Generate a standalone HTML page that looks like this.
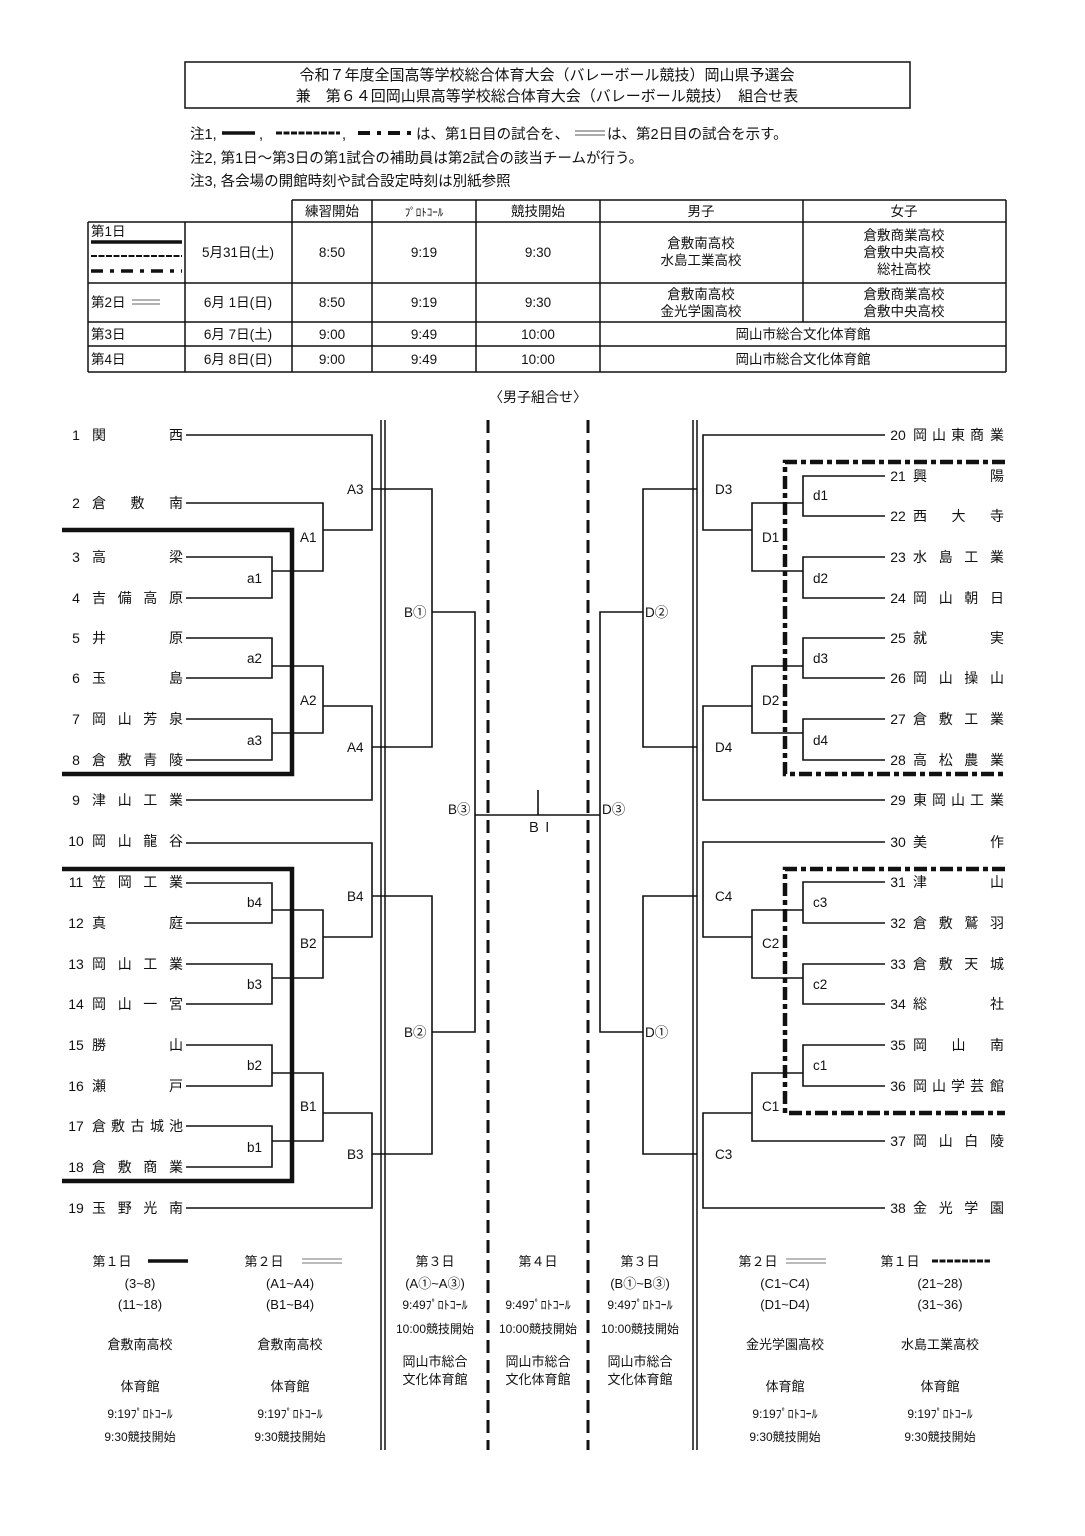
<!DOCTYPE html>
<html><head><meta charset="utf-8">
<style>
html,body{margin:0;padding:0;background:#fff}
svg{display:block}
text{font-family:"Liberation Sans","Noto Sans CJK JP",sans-serif;fill:#111}
</style></head>
<body>
<svg width="1085" height="1536" viewBox="0 0 1085 1536" xmlns="http://www.w3.org/2000/svg">
<!-- Header -->
<rect x="185" y="62" width="725" height="46" fill="none" stroke="#111" stroke-width="1.5"/>
<text x="547" y="80" font-size="15" text-anchor="middle">令和７年度全国高等学校総合体育大会（バレーボール競技）岡山県予選会</text>
<text x="547" y="101" font-size="15" text-anchor="middle">兼　第６４回岡山県高等学校総合体育大会（バレーボール競技）　組合せ表</text>
<!-- Notes -->
<g font-size="14.5">
<text x="190" y="139">注1,</text>
<line x1="222" y1="133" x2="255" y2="133" stroke="#111" stroke-width="3.5"/>
<text x="259" y="139">,</text>
<line x1="276" y1="133" x2="340" y2="133" stroke="#111" stroke-width="3" stroke-dasharray="6 1.5"/>
<text x="342" y="139">,</text>
<line x1="358" y1="133" x2="415" y2="133" stroke="#111" stroke-width="4" stroke-dasharray="12 7 4 7"/>
<text x="416" y="139">は、第1日目の試合を、</text>
<line x1="575" y1="131" x2="605" y2="131" stroke="#555" stroke-width="1"/>
<line x1="575" y1="135" x2="605" y2="135" stroke="#555" stroke-width="1"/>
<text x="607" y="139">は、第2日目の試合を示す。</text>
<text x="190" y="163">注2, 第1日～第3日の第1試合の補助員は第2試合の該当チームが行う。</text>
<text x="190" y="186">注3, 各会場の開館時刻や試合設定時刻は別紙参照</text>
</g>
<!-- Table -->
<g stroke="#111" stroke-width="1.5" fill="none">
<line x1="292" y1="200" x2="1006" y2="200"/>
<line x1="88" y1="222" x2="1006" y2="222"/>
<line x1="88" y1="283" x2="1006" y2="283"/>
<line x1="88" y1="322" x2="1006" y2="322"/>
<line x1="88" y1="346" x2="1006" y2="346"/>
<line x1="88" y1="372" x2="1006" y2="372"/>
<line x1="88" y1="222" x2="88" y2="372"/>
<line x1="185" y1="222" x2="185" y2="372"/>
<line x1="292" y1="200" x2="292" y2="372"/>
<line x1="372" y1="200" x2="372" y2="372"/>
<line x1="476" y1="200" x2="476" y2="372"/>
<line x1="600" y1="200" x2="600" y2="372"/>
<line x1="803" y1="200" x2="803" y2="322"/>
<line x1="1006" y1="200" x2="1006" y2="372"/>
</g>
<line x1="91" y1="242" x2="182" y2="242" stroke="#111" stroke-width="3.5"/>
<line x1="91" y1="256" x2="182" y2="256" stroke="#111" stroke-width="2" stroke-dasharray="6 1.5"/>
<line x1="91" y1="271" x2="182" y2="271" stroke="#111" stroke-width="3.5" stroke-dasharray="12 7 4 7"/>
<line x1="132" y1="300" x2="160" y2="300" stroke="#666" stroke-width="1"/>
<line x1="132" y1="304" x2="160" y2="304" stroke="#666" stroke-width="1"/>
<g font-size="13.5" text-anchor="middle">
<text x="332" y="216">練習開始</text>
<text x="424" y="216" font-size="11">ﾌﾟﾛﾄｺｰﾙ</text>
<text x="538" y="216">競技開始</text>
<text x="701" y="216">男子</text>
<text x="904" y="216">女子</text>
<text x="238" y="257">5月31日(土)</text><text x="332" y="257">8:50</text><text x="424" y="257">9:19</text><text x="538" y="257">9:30</text>
<text x="701" y="248">倉敷南高校</text><text x="701" y="265">水島工業高校</text>
<text x="904" y="240">倉敷商業高校</text><text x="904" y="257">倉敷中央高校</text><text x="904" y="274">総社高校</text>
<text x="238" y="307">6月 1日(日)</text><text x="332" y="307">8:50</text><text x="424" y="307">9:19</text><text x="538" y="307">9:30</text>
<text x="701" y="299">倉敷南高校</text><text x="701" y="316">金光学園高校</text>
<text x="904" y="299">倉敷商業高校</text><text x="904" y="316">倉敷中央高校</text>
<text x="238" y="339">6月 7日(土)</text><text x="332" y="339">9:00</text><text x="424" y="339">9:49</text><text x="538" y="339">10:00</text>
<text x="803" y="339">岡山市総合文化体育館</text>
<text x="238" y="364">6月 8日(日)</text><text x="332" y="364">9:00</text><text x="424" y="364">9:49</text><text x="538" y="364">10:00</text>
<text x="803" y="364">岡山市総合文化体育館</text>
</g>
<g font-size="13.5">
<text x="91" y="236">第1日</text>
<text x="91" y="307">第2日</text>
<text x="91" y="339">第3日</text>
<text x="91" y="364">第4日</text>
</g>
<text x="538" y="402" font-size="14" text-anchor="middle">〈男子組合せ〉</text>

<!-- center lines -->
<g stroke="#111" stroke-width="1.5">
<line x1="381" y1="420" x2="381" y2="1450"/><line x1="385" y1="420" x2="385" y2="1450"/>
<line x1="693" y1="420" x2="693" y2="1450"/><line x1="697" y1="420" x2="697" y2="1450"/>
</g>
<g stroke="#111" stroke-width="3" stroke-dasharray="13 7">
<line x1="488" y1="420" x2="488" y2="1450"/>
<line x1="588" y1="420" x2="588" y2="1450"/>
</g>

<!-- Bracket lines -->
<g stroke="#111" stroke-width="1.6" fill="none">
<path d="M186 435H372V530H323"/>
<path d="M186 503H323V571H272"/>
<path d="M186 557H272V598H186"/>
<path d="M186 638H272V678H186"/>
<path d="M272 666H323V733H272"/>
<path d="M186 719H272V760H186"/>
<path d="M323 706H372V800H186"/>
<path d="M372 489H432V747H372"/>
<path d="M432 612H475V1032H432"/>
<path d="M475 815H600"/>
<path d="M538 790V815"/>
<path d="M186 843H372V937H323"/>
<path d="M186 883H272V923H186"/>
<path d="M272 910H323V978H272"/>
<path d="M186 964H272V1004H186"/>
<path d="M186 1045H272V1086H186"/>
<path d="M272 1073H323V1141H272"/>
<path d="M186 1126H272V1167H186"/>
<path d="M323 1113H372V1208H186"/>
<path d="M372 896H432V1154H372"/>
<path d="M885 435H703V530H752"/>
<path d="M885 476H803V516H885"/>
<path d="M803 503H752V571H803"/>
<path d="M885 557H803V598H885"/>
<path d="M885 638H803V678H885"/>
<path d="M803 666H752V733H803"/>
<path d="M885 719H803V760H885"/>
<path d="M752 706H703V800H885"/>
<path d="M697 489H643V747H697"/>
<path d="M643 612H600V1032H643"/>
<path d="M885 842H703V937H752"/>
<path d="M885 882H803V923H885"/>
<path d="M803 910H752V978H803"/>
<path d="M885 964H803V1004H885"/>
<path d="M885 1045H803V1086H885"/>
<path d="M803 1073H752V1141H885"/>
<path d="M752 1113H703V1208H885"/>
<path d="M697 896H643V1154H697"/>
</g>
<path d="M62 530H292V774H62" stroke="#111" stroke-width="4.5" fill="none"/>
<path d="M62 869H292V1181H62" stroke="#111" stroke-width="4.5" fill="none"/>
<g stroke="#111" stroke-width="4.5" fill="none" stroke-dasharray="13 4 5 4">
<path d="M1005 462H785V774H1005"/>
<path d="M1005 869H785V1113H1005"/>
</g>

<g font-size="13.5">
<text x="347" y="494">A3</text><text x="300" y="542">A1</text><text x="247" y="583">a1</text>
<text x="247" y="663">a2</text><text x="300" y="705">A2</text><text x="247" y="745">a3</text>
<text x="347" y="752">A4</text><text x="404" y="617">B①</text><text x="448" y="814">B③</text>
<text x="347" y="901">B4</text><text x="300" y="948">B2</text><text x="247" y="907">b4</text>
<text x="247" y="989">b3</text><text x="247" y="1070">b2</text><text x="300" y="1111">B1</text>
<text x="247" y="1152">b1</text><text x="347" y="1159">B3</text><text x="404" y="1037">B②</text>
<text x="527" y="832">ＢⅠ</text>
<text x="645" y="617">D②</text><text x="602" y="814">D③</text><text x="645" y="1037">D①</text>
<text x="715" y="494">D3</text><text x="762" y="542">D1</text><text x="813" y="500">d1</text>
<text x="813" y="583">d2</text><text x="813" y="663">d3</text><text x="762" y="705">D2</text>
<text x="813" y="745">d4</text><text x="715" y="752">D4</text>
<text x="715" y="901">C4</text><text x="813" y="907">c3</text><text x="762" y="948">C2</text>
<text x="813" y="989">c2</text><text x="813" y="1070">c1</text><text x="762" y="1111">C1</text>
<text x="715" y="1159">C3</text>
</g>

<g font-size="14" text-anchor="middle">
<text x="76" y="440">1</text><text x="99 176" y="440">関西</text>
<text x="76" y="508">2</text><text x="99 137.5 176" y="508">倉敷南</text>
<text x="76" y="562">3</text><text x="99 176" y="562">高梁</text>
<text x="76" y="603">4</text><text x="99 124.7 150.3 176" y="603">吉備高原</text>
<text x="76" y="643">5</text><text x="99 176" y="643">井原</text>
<text x="76" y="683">6</text><text x="99 176" y="683">玉島</text>
<text x="76" y="724">7</text><text x="99 124.7 150.3 176" y="724">岡山芳泉</text>
<text x="76" y="765">8</text><text x="99 124.7 150.3 176" y="765">倉敷青陵</text>
<text x="76" y="805">9</text><text x="99 124.7 150.3 176" y="805">津山工業</text>
<text x="76" y="846">10</text><text x="99 124.7 150.3 176" y="846">岡山龍谷</text>
<text x="76" y="887">11</text><text x="99 124.7 150.3 176" y="887">笠岡工業</text>
<text x="76" y="928">12</text><text x="99 176" y="928">真庭</text>
<text x="76" y="969">13</text><text x="99 124.7 150.3 176" y="969">岡山工業</text>
<text x="76" y="1009">14</text><text x="99 124.7 150.3 176" y="1009">岡山一宮</text>
<text x="76" y="1050">15</text><text x="99 176" y="1050">勝山</text>
<text x="76" y="1091">16</text><text x="99 176" y="1091">瀬戸</text>
<text x="76" y="1131">17</text><text x="99 118 137.5 157 176" y="1131">倉敷古城池</text>
<text x="76" y="1172">18</text><text x="99 124.7 150.3 176" y="1172">倉敷商業</text>
<text x="76" y="1213">19</text><text x="99 124.7 150.3 176" y="1213">玉野光南</text>
</g>
<g font-size="14" text-anchor="middle">
<text x="898" y="440">20</text><text x="920 939 958 977 997" y="440">岡山東商業</text>
<text x="898" y="481">21</text><text x="920 997" y="481">興陽</text>
<text x="898" y="521">22</text><text x="920 958.5 997" y="521">西大寺</text>
<text x="898" y="562">23</text><text x="920 945.7 971.3 997" y="562">水島工業</text>
<text x="898" y="603">24</text><text x="920 945.7 971.3 997" y="603">岡山朝日</text>
<text x="898" y="643">25</text><text x="920 997" y="643">就実</text>
<text x="898" y="683">26</text><text x="920 945.7 971.3 997" y="683">岡山操山</text>
<text x="898" y="724">27</text><text x="920 945.7 971.3 997" y="724">倉敷工業</text>
<text x="898" y="765">28</text><text x="920 945.7 971.3 997" y="765">高松農業</text>
<text x="898" y="805">29</text><text x="920 939 958 977 997" y="805">東岡山工業</text>
<text x="898" y="847">30</text><text x="920 997" y="847">美作</text>
<text x="898" y="887">31</text><text x="920 997" y="887">津山</text>
<text x="898" y="928">32</text><text x="920 945.7 971.3 997" y="928">倉敷鷲羽</text>
<text x="898" y="969">33</text><text x="920 945.7 971.3 997" y="969">倉敷天城</text>
<text x="898" y="1009">34</text><text x="920 997" y="1009">総社</text>
<text x="898" y="1050">35</text><text x="920 958.5 997" y="1050">岡山南</text>
<text x="898" y="1091">36</text><text x="920 939 958 977 997" y="1091">岡山学芸館</text>
<text x="898" y="1146">37</text><text x="920 945.7 971.3 997" y="1146">岡山白陵</text>
<text x="898" y="1213">38</text><text x="920 945.7 971.3 997" y="1213">金光学園</text>
</g>

<line x1="148" y1="1261" x2="188" y2="1261" stroke="#111" stroke-width="3.5"/>
<line x1="302" y1="1259" x2="342" y2="1259" stroke="#777" stroke-width="1"/><line x1="302" y1="1263" x2="342" y2="1263" stroke="#777" stroke-width="1"/>
<line x1="786" y1="1259" x2="826" y2="1259" stroke="#777" stroke-width="1"/><line x1="786" y1="1263" x2="826" y2="1263" stroke="#777" stroke-width="1"/>
<line x1="932" y1="1261" x2="990" y2="1261" stroke="#111" stroke-width="3" stroke-dasharray="6 1.5"/>
<g font-size="13" text-anchor="middle">
<text x="112" y="1266">第１日</text>
<text x="264" y="1266">第２日</text>
<text x="435" y="1266">第３日</text>
<text x="538" y="1266">第４日</text>
<text x="640" y="1266">第３日</text>
<text x="758" y="1266">第２日</text>
<text x="900" y="1266">第１日</text>
<text x="140" y="1288">(3~8)</text><text x="140" y="1309">(11~18)</text>
<text x="290" y="1288">(A1~A4)</text><text x="290" y="1309">(B1~B4)</text>
<text x="435" y="1288">(A①~A③)</text>
<text x="640" y="1288">(B①~B③)</text>
<text x="785" y="1288">(C1~C4)</text><text x="785" y="1309">(D1~D4)</text>
<text x="940" y="1288">(21~28)</text><text x="940" y="1309">(31~36)</text>
<g font-size="12">
<text x="435" y="1309">9:49ﾌﾟﾛﾄｺｰﾙ</text><text x="538" y="1309">9:49ﾌﾟﾛﾄｺｰﾙ</text><text x="640" y="1309">9:49ﾌﾟﾛﾄｺｰﾙ</text>
<text x="435" y="1333">10:00競技開始</text><text x="538" y="1333">10:00競技開始</text><text x="640" y="1333">10:00競技開始</text>
</g>
<text x="435" y="1366">岡山市総合</text><text x="538" y="1366">岡山市総合</text><text x="640" y="1366">岡山市総合</text>
<text x="435" y="1384">文化体育館</text><text x="538" y="1384">文化体育館</text><text x="640" y="1384">文化体育館</text>
<text x="140" y="1349">倉敷南高校</text><text x="290" y="1349">倉敷南高校</text>
<text x="785" y="1349">金光学園高校</text><text x="940" y="1349">水島工業高校</text>
<text x="140" y="1391">体育館</text><text x="290" y="1391">体育館</text><text x="785" y="1391">体育館</text><text x="940" y="1391">体育館</text>
<g font-size="12">
<text x="140" y="1418">9:19ﾌﾟﾛﾄｺｰﾙ</text><text x="290" y="1418">9:19ﾌﾟﾛﾄｺｰﾙ</text><text x="785" y="1418">9:19ﾌﾟﾛﾄｺｰﾙ</text><text x="940" y="1418">9:19ﾌﾟﾛﾄｺｰﾙ</text>
<text x="140" y="1441">9:30競技開始</text><text x="290" y="1441">9:30競技開始</text><text x="785" y="1441">9:30競技開始</text><text x="940" y="1441">9:30競技開始</text>
</g>
</g>
</svg>
</body></html>
